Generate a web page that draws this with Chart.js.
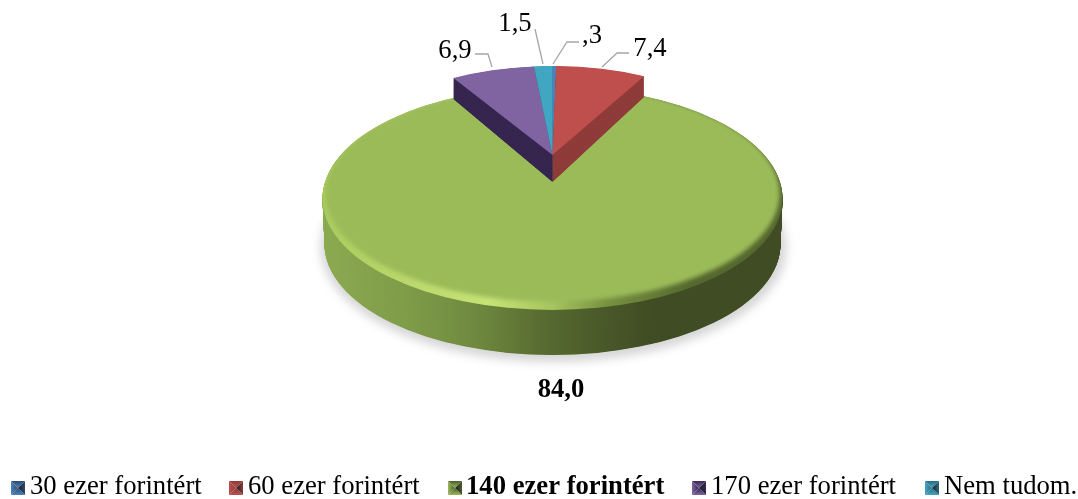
<!DOCTYPE html>
<html><head><meta charset="utf-8">
<style>html,body{margin:0;padding:0;background:#fff}canvas{display:block}</style>
<script src="https://cdn.jsdelivr.net/npm/chart.js@4"></script>
</head><body><canvas id="c" width="1078" height="499"></canvas>
<script>
const categories = ['30 ezer forintért','60 ezer forintért','140 ezer forintért','170 ezer forintért','Nem tudom.'];
const values = [0.3, 7.4, 84.0, 6.9, 1.5];
const faceColors = ['#4F81BD','#BE4F4C','#9BBB59','#8064A2','#41A6C2'];
const sideColors = ['#2c4a70','#8E3B39','#4a5a2a','#36264F','#2a6d80'];
const boldIndex = 2;
const FONT = '"Liberation Serif","Times New Roman",serif';
const fmt = v => v.toFixed(1).replace('.', ',').replace(/^0,/, ',');

// layout of the pictured "3D" pie
const GREEN = {cx:552.5, cy:198.5, rx:230, ry:111.5, depth:46};
const WEDGE = {cx:552.5, cy:155, rx:197, ry:89, depth:27};
const labelPos = [[592,43],[650,56],[561,397],[455,58],[515,31]];
const leaders = [
  [[553,64],[567,42],[579,42]],
  [[602,67],[617,53],[629,53]],
  null,
  [[492,67],[488,54],[475,54]],
  [[543,64],[535,29]]
];
const legendBoxes = [11,229,448,692,925];
const legendTexts = [30,248,466,711,944];

function ghost(arc, fill, full){
  const g = Object.create(arc);
  g.options = {backgroundColor:fill,borderColor:'transparent',borderWidth:0,offset:0,spacing:0,circular:true,
    borderRadius:0,borderAlign:'center',borderJoinStyle:'round',borderDash:[],borderDashOffset:0};
  if(full){g.startAngle=-Math.PI/2;g.endAngle=1.5*Math.PI;g.circumference=2*Math.PI;}
  return g;
}
function paint(ctx, arc, fill, full, cx, cy, rx, ry){
  const R = arc.outerRadius;
  ctx.save();
  ctx.translate(cx,cy); ctx.scale(rx/R, ry/R); ctx.translate(-arc.x,-arc.y);
  ghost(arc, fill, full).draw(ctx);
  ctx.restore();
}
function hGrad(ctx, arc, stops){
  const R = arc.outerRadius;
  const g = ctx.createLinearGradient(arc.x-R,0,arc.x+R,0);
  stops.forEach(s=>g.addColorStop(s[0],s[1]));
  return g;
}
const pie3d = {
  id:'pie3d',
  beforeDatasetDraw(chart){
    const ctx = chart.ctx, arcs = chart.getDatasetMeta(0).data, green = arcs[boldIndex];
    // soft ground shadow
    ctx.save(); ctx.filter='blur(5px)';
    paint(ctx, green, 'rgba(0,0,0,0.16)', true, GREEN.cx+1, GREEN.cy+GREEN.depth+3, GREEN.rx+3, GREEN.ry+3);
    ctx.restore();
    // green body
    const side = hGrad(ctx, green, [[0,'#8BAA50'],[0.18,'#7f9c49'],[0.33,'#6f8a3f'],[0.47,'#596d32'],[0.6,'#4a5a2a'],[0.72,'#404C23'],[1,'#404C23']]);
    for(let d=GREEN.depth; d>=0; d-=0.5){
      const t=d/GREEN.depth;
      paint(ctx, green, side, true, GREEN.cx, GREEN.cy+d, GREEN.rx-2*t, GREEN.ry-1*t);
    }
    // bevel of the top face
    const bevel = hGrad(ctx, green, [[0,'#a9cc5c'],[0.2,'#bcd96d'],[0.36,'#c6e375'],[0.5,'#a6c560'],[0.62,'#76913f'],[0.8,'#55682e'],[1,'#55682e']]);
    paint(ctx, green, bevel, true, GREEN.cx, GREEN.cy, GREEN.rx, GREEN.ry);
    ctx.save(); ctx.filter='blur(2px)'; ctx.globalCompositeOperation='source-atop';
    paint(ctx, green, faceColors[boldIndex], true, GREEN.cx, GREEN.cy-5, GREEN.rx-3, GREEN.ry-3.5);
    ctx.restore();
    // separated wedge: sides then tops
    for(let d=WEDGE.depth; d>0; d-=0.5){
      arcs.forEach((a,i)=>{ if(i!==boldIndex)
        paint(ctx, a, sideColors[i], false, WEDGE.cx, WEDGE.cy+d, WEDGE.rx, WEDGE.ry+d*0.26);
      });
    }
    arcs.forEach((a,i)=>{ if(i!==boldIndex)
      paint(ctx, a, faceColors[i], false, WEDGE.cx, WEDGE.cy, WEDGE.rx, WEDGE.ry);
    });
    return false;
  },
  afterDraw(chart){
    const ctx = chart.ctx;
    ctx.save();
    // leader lines
    ctx.strokeStyle='#A6A6A6'; ctx.lineWidth=1.3;
    leaders.forEach(l=>{ if(!l) return; ctx.beginPath(); l.forEach((p,i)=>i?ctx.lineTo(p[0],p[1]):ctx.moveTo(p[0],p[1])); ctx.stroke(); });
    // value labels
    ctx.fillStyle='#000'; ctx.textAlign='center'; ctx.textBaseline='alphabetic';
    values.forEach((v,i)=>{
      ctx.font=(i===boldIndex?'bold ':'')+'26.67px '+FONT;
      ctx.fillText(fmt(v), labelPos[i][0], labelPos[i][1]);
    });
    // legend: small bevelled squares
    ctx.textAlign='left';
    categories.forEach((c,i)=>{
      const x=legendBoxes[i], y=481, s=14, m=[x+s/2,y+s/2], col=faceColors[i], dk=sideColors[i];
      const tri=(a,b,edge,mid,gx,gy)=>{
        const g=ctx.createLinearGradient(gx,gy,m[0],m[1]);
        g.addColorStop(0,edge); g.addColorStop(1,mid);
        ctx.fillStyle=g;ctx.beginPath();ctx.moveTo(m[0],m[1]);ctx.lineTo(a[0],a[1]);ctx.lineTo(b[0],b[1]);ctx.closePath();ctx.fill();
      };
      tri([x,y],[x+s,y],dk,col,m[0],y);
      tri([x,y],[x,y+s],col,dk,x,m[1]);
      tri([x,y+s],[x+s,y+s],col,dk,m[0],y+s);
      tri([x+s,y],[x+s,y+s],dk,'#1a2024',x+s,m[1]);
      ctx.fillStyle='#000';
      ctx.font=(i===boldIndex?'bold ':'')+'26.67px '+FONT;
      ctx.fillText(c, legendTexts[i], 494);
    });
    ctx.restore();
  }
};
new Chart(document.getElementById('c'),{
  type:'pie',
  data:{labels:categories,datasets:[{data:values,backgroundColor:faceColors,borderWidth:0}]},
  options:{responsive:false,animation:false,
    plugins:{legend:{display:false},tooltip:{enabled:false}}},
  plugins:[pie3d]
});
</script></body></html>
